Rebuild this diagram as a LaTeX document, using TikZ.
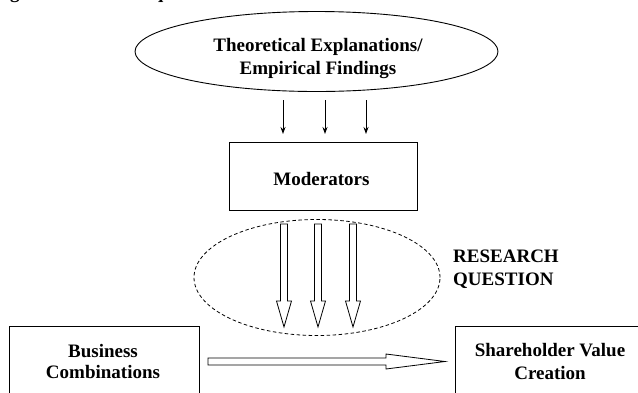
\documentclass[tikz,border=0pt]{standalone}
\usepackage{fontspec}
\setmainfont{Liberation Serif}
\usetikzlibrary{shapes.geometric,arrows.meta}
\begin{document}
\begin{tikzpicture}[x=1pt,y=-1pt,
  lbl/.style={font=\fontsize{19}{23}\selectfont\bfseries, inner sep=0pt, align=center},
  lbltight/.style={font=\fontsize{19}{21}\selectfont\bfseries, inner sep=0pt, align=center},
  boxline/.style={draw, line width=0.9pt, inner sep=0pt},
  smallarrow/.style={line width=0.9pt, -{Stealth[length=7pt,width=5pt]}},
  hollow/.style={draw, line width=0.8pt, fill=white, line join=miter}]
\useasboundingbox (0,0) rectangle (638,392);
\clip (0,0) rectangle (638,392);

% caption (cropped at the top, as in the reference)
\node[font=\fontsize{19}{23}\selectfont\bfseries, inner sep=0pt, anchor=base west] (cap) at (-7,-1.5) {Figure 1: Research question};

% top ellipse
\node[ellipse, boxline, minimum width=363pt, minimum height=80pt] (theo) at (316.5,51.5) {};
\node[lbl] (theotext) at (318,58) {Theoretical Explanations/\\Empirical Findings};

% moderators
\node[boxline, minimum width=188pt, minimum height=68pt] (mod) at (323,176) {};
\node[lbl, anchor=base] (modtext) at (321.5,185) {Moderators};

% small arrows
\foreach \x [count=\i] in {283,325,366} {
  \coordinate (s\i) at (\x,100);
  \coordinate (e\i) at (\x,134);
  \draw[smallarrow] (s\i) -- (e\i);
}

% research question ellipse
\node[ellipse, draw, line width=0.8pt, dash pattern=on 3.5pt off 2.5pt, minimum width=246pt, minimum height=116pt, inner sep=0pt] (rq) at (317,277.5) {};
\node[lbl, align=left, anchor=west] (rqtext) at (453,269) {RESEARCH\\QUESTION};

% hollow vertical arrows
\foreach \x in {284,318,353} {
  \draw[hollow] ({\x-3.5},224) -- ({\x+3.5},224) -- ({\x+3.5},301) -- ({\x+7.5},301)
    -- (\x,327) -- ({\x-7.5},301) -- ({\x-3.5},301) -- cycle;
}

% bottom boxes
\node[boxline, minimum width=190pt, minimum height=74pt, anchor=north west] (biz) at (9,326) {};
\node[lbltight] (biztext) at (103,361) {Business\\Combinations};
\node[boxline, minimum width=190pt, minimum height=74pt, anchor=north west] (share) at (455,326) {};
\node[lbl] (sharetext) at (550,361.5) {Shareholder Value\\Creation};

% hollow horizontal arrow
\draw[hollow] (208,358) -- (386,358) -- (386,354) -- (445,361.5) -- (386,369) -- (386,365) -- (208,365) -- cycle;
\end{tikzpicture}
\end{document}
